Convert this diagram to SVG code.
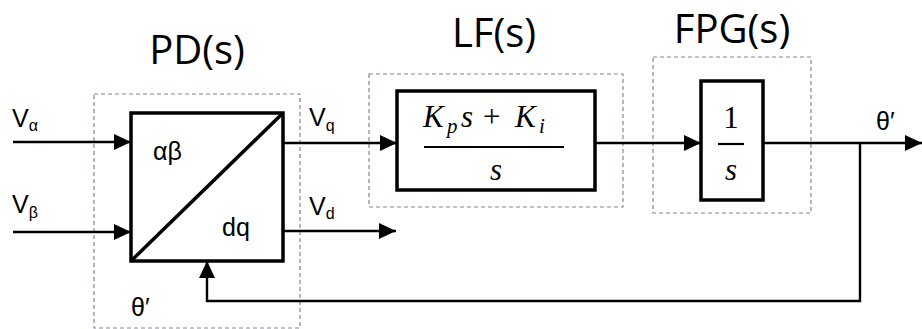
<svg xmlns="http://www.w3.org/2000/svg" width="922" height="329" viewBox="0 0 922 329">
<style>
.blk{fill:#fff;stroke:#000;stroke-width:3.5}
.dash{fill:none;stroke:#7f879c;stroke-width:1.2;stroke-dasharray:4 3}
.ln{fill:none;stroke:#000;stroke-width:2.4}
.ttl{font-family:"Open Sans",sans-serif;font-size:40px;fill:#000}
.lbl{font-family:"Liberation Sans",Arial,sans-serif;font-size:25px;fill:#000}
.sub{font-size:16px}
.m{font-family:"Liberation Serif","Times New Roman",serif;font-size:31px;fill:#000}
.ms{font-family:"Liberation Serif","Times New Roman",serif;font-size:21px;font-style:italic;fill:#000}
.mi{font-style:italic}
</style>
<defs>
<marker id="ah" markerWidth="17" markerHeight="16" refX="17" refY="8" orient="auto" markerUnits="userSpaceOnUse">
<path d="M0,0 L17,8 L0,16 Z" fill="#000"/>
</marker>
</defs>
<g id="titles">
<text class="ttl" x="197" y="64" text-anchor="middle">PD(s)</text>
<text class="ttl" x="494" y="47" text-anchor="middle">LF(s)</text>
<text class="ttl" x="732" y="43" text-anchor="middle">FPG(s)</text>
</g>
<g id="PD">
<rect class="dash" x="94" y="94" width="206" height="234"/>
<rect class="blk" x="131" y="113" width="152" height="148"/>
<line x1="131" y1="261" x2="283" y2="113" stroke="#000" stroke-width="3.5"/>
<text class="lbl" x="153" y="160" font-size="24">αβ</text>
<text class="lbl" x="222" y="236" font-size="24">dq</text>
<text class="lbl" x="131" y="316">θ′</text>
</g>
<g id="LF">
<rect class="dash" x="369" y="74" width="254" height="133"/>
<rect class="blk" x="397" y="91" width="198" height="99"/>
<text class="m mi" x="423" y="127">K</text>
<text class="ms" x="447" y="133">p</text>
<text class="m mi" x="461" y="127">s</text>
<text class="m" x="483" y="127">+</text>
<text class="m mi" x="515" y="127">K</text>
<text class="ms" x="539" y="133">i</text>
<line x1="424" y1="147" x2="564" y2="147" stroke="#000" stroke-width="2.2"/>
<text class="m mi" x="496" y="180" font-size="34" text-anchor="middle">s</text>
</g>
<g id="FPG">
<rect class="dash" x="653" y="57" width="158" height="156"/>
<rect class="blk" x="701" y="81" width="62" height="119"/>
<text class="m" x="731" y="128" font-size="33" text-anchor="middle">1</text>
<line x1="718" y1="144" x2="744" y2="144" stroke="#000" stroke-width="2.2"/>
<text class="m mi" x="731" y="180" font-size="34" text-anchor="middle">s</text>
</g>
<g id="connectors">
<line class="ln" x1="13" y1="142" x2="131" y2="142" marker-end="url(#ah)"/>
<line class="ln" x1="13" y1="232" x2="131" y2="232" marker-end="url(#ah)"/>
<line class="ln" x1="283" y1="143" x2="397" y2="143" marker-end="url(#ah)"/>
<line class="ln" x1="283" y1="231" x2="396" y2="231" marker-end="url(#ah)"/>
<line class="ln" x1="595" y1="143" x2="701" y2="143" marker-end="url(#ah)"/>
<line class="ln" x1="763" y1="143" x2="922" y2="143" marker-end="url(#ah)"/>
<polyline class="ln" points="860,143 860,301 207,301 207,261" marker-end="url(#ah)"/>
</g>
<g id="labels">
<text class="lbl" x="12" y="127">V<tspan class="sub" dy="4">α</tspan></text>
<text class="lbl" x="12" y="213">V<tspan class="sub" dy="5">β</tspan></text>
<text class="lbl" x="309" y="126">V<tspan class="sub" dy="5">q</tspan></text>
<text class="lbl" x="309" y="215">V<tspan class="sub" dy="4">d</tspan></text>
<text class="lbl" x="876" y="130">θ′</text>
</g>
</svg>
